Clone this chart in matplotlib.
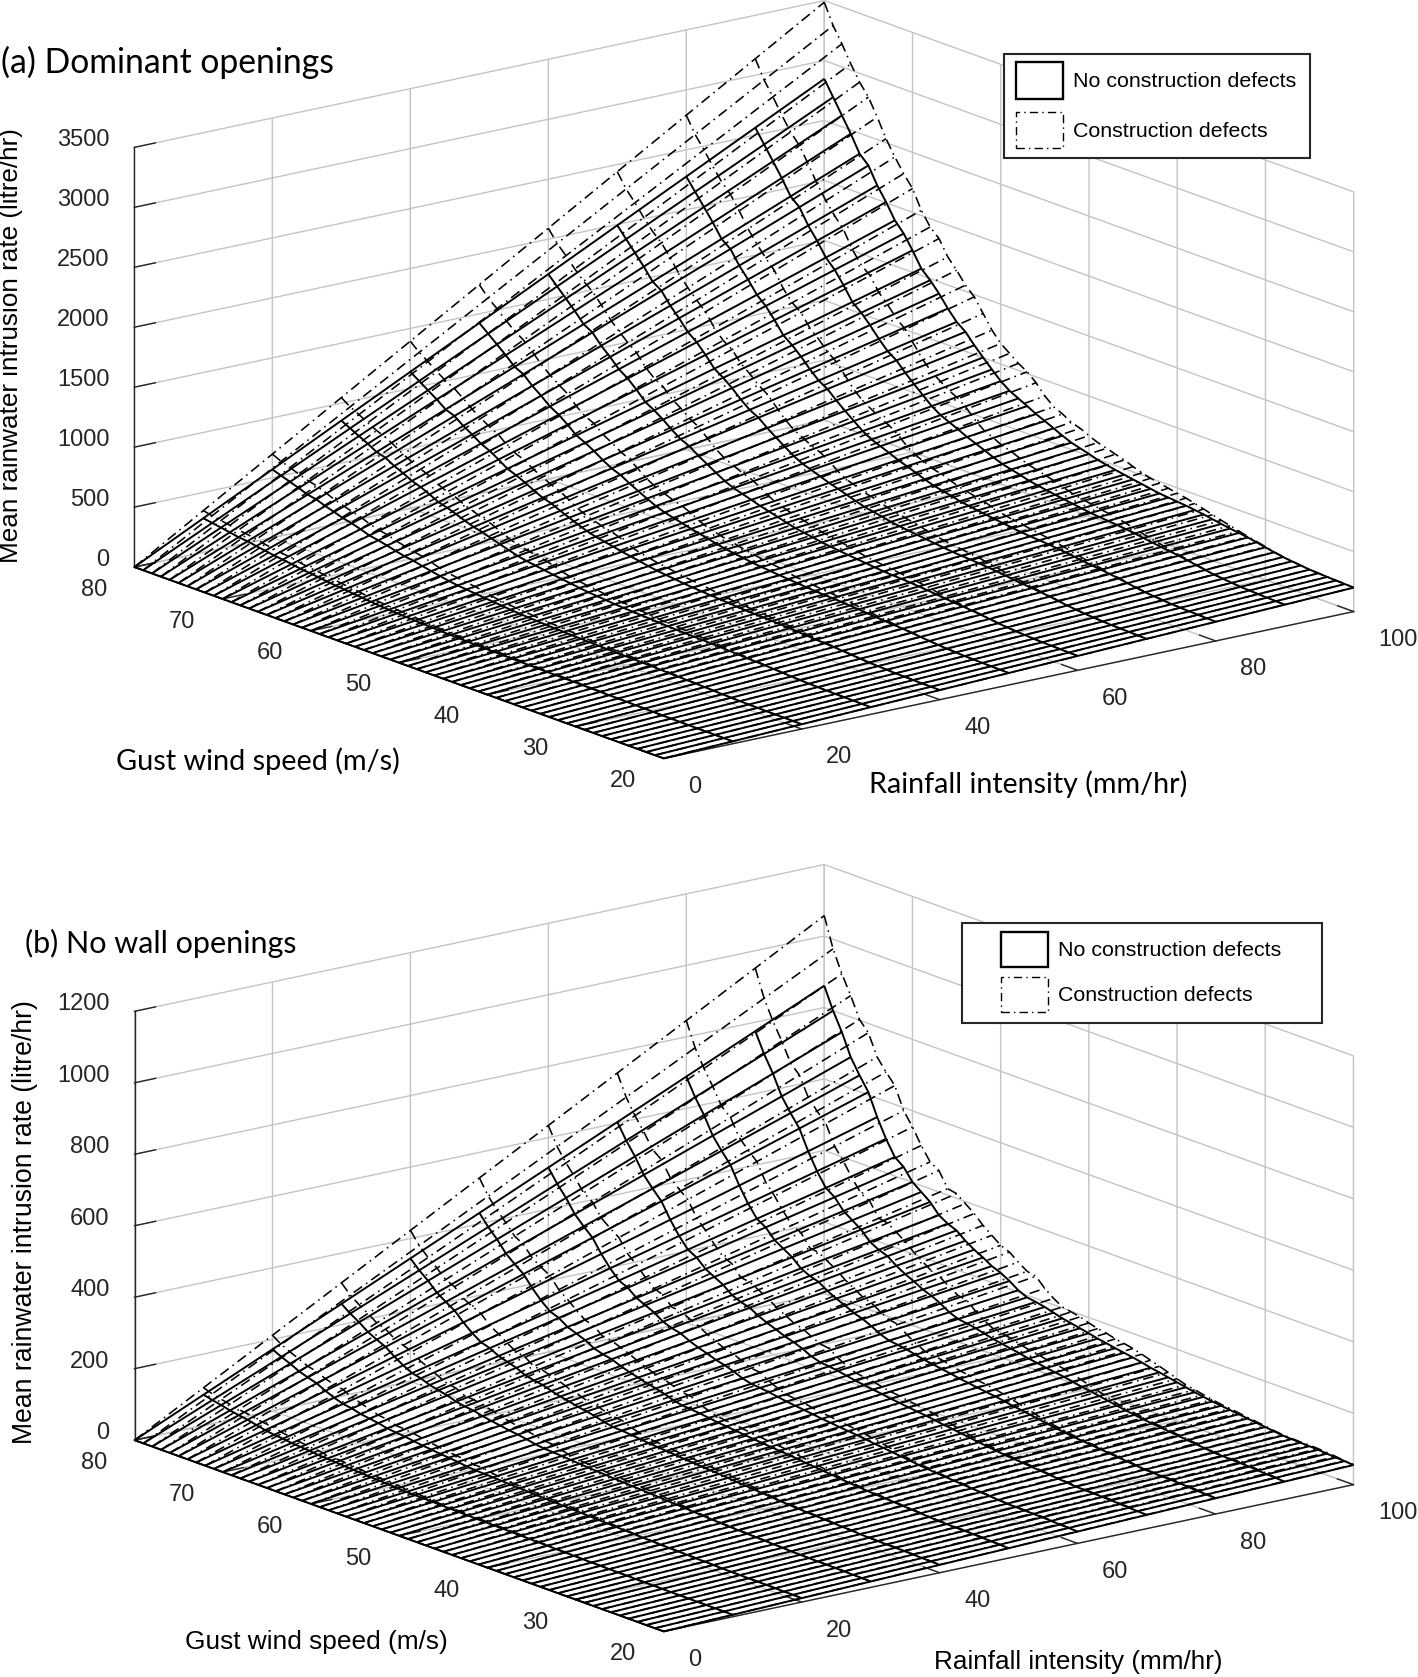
import matplotlib
matplotlib.use('Agg')
import matplotlib.pyplot as plt
import numpy as np
from matplotlib.patches import Patch, Rectangle

# wind speed runs from 80 down to 20 m/s, same order as the lists below
wind = list(range(80, 19, -1))
rain = [0, 10, 20, 30, 40, 50, 60, 70, 80, 90, 100]

# rate at 100 mm/hr for every wind speed (rows are straight in rain)
a_clean = [2847, 2721, 2595, 2469, 2329, 2258, 2118, 2006, 1880, 1796, 1683, 1557, 1487, 1402, 1304, 1219,
           1163, 1078, 1002, 929, 858, 804, 767, 730, 690, 658, 624, 589, 558, 537, 517, 493, 478, 463, 450,
           437, 425, 412, 400, 392, 385, 378, 368, 358, 345, 332, 320, 310, 299, 285, 270, 255, 242, 233,
           225, 217, 213, 209, 206, 203, 200]
a_defect = [3486, 3318, 3192, 3052, 2926, 2828, 2688, 2534, 2408, 2296, 2198, 2043, 1931, 1861, 1734, 1650,
            1552, 1481, 1369, 1257, 1172, 1116, 1059, 1016, 951, 867, 804, 770, 727, 704, 669, 638, 617, 594,
            573, 544, 518, 500, 486, 470, 455, 441, 423, 403, 382, 362, 344, 326, 307, 292, 275, 258, 244,
            235, 226, 218, 214, 210, 207, 203, 200]
b_clean = [861, 800, 749, 688, 646, 608, 547, 495, 453, 434, 401, 382, 363, 335, 320, 310, 290, 274, 261, 246,
           236, 222, 205, 194, 190, 185, 178, 171, 166, 161, 156, 150, 146, 141, 137, 133, 128, 122, 118, 113,
           108, 103, 98, 94, 90, 87, 84, 81, 78, 75, 72, 69, 66, 65, 64, 63, 62, 60, 58, 57, 55]
b_defect = [1057, 973, 912, 860, 802, 774, 715, 682, 653, 592, 555, 512, 475, 460, 418, 413, 394, 375, 351, 332,
            313, 303, 284, 267, 262, 237, 218, 203, 198, 193, 185, 178, 174, 167, 163, 158, 151, 143, 135, 127,
            118, 110, 105, 100, 95, 91, 88, 85, 81, 78, 75, 71, 68, 67, 66, 66, 65, 63, 61, 58, 56]

rain_ticks = [0, 20, 40, 60, 80, 100]
wind_ticks = [20, 30, 40, 50, 60, 70, 80]
a_zticks = [0, 500, 1000, 1500, 2000, 2500, 3000, 3500]
b_zticks = [0, 200, 400, 600, 800, 1000, 1200]

W, H = 1418, 1677
DASH = (0, (6.5, 3, 1, 3))
GREY = '#c4c4c4'
DARK = '#262626'

plt.rcParams['font.family'] = ['Liberation Sans', 'DejaVu Sans']
fig = plt.figure(figsize=(W / 100, H / 100), dpi=100)
fig.patch.set_facecolor('white')


def panel(rect, zmax, zticks, clean, defect, zheight):
    # rect given in pixels: left, bottom (from the figure bottom) and side of the square axes
    ax = fig.add_axes([rect[0] / W, rect[1] / H, rect[2] / W, rect[2] / H], projection='3d', proj_type='ortho')
    ax.patch.set_visible(False)
    ax.view_init(elev=16.1, azim=-127.5)
    ax.set_xlim(0, 100, view_margin=0)
    ax.set_ylim(20, 80, view_margin=0)
    ax.set_zlim(0, zmax, view_margin=0)
    ax.set_box_aspect((870, 870, zheight))
    X, Y = np.meshgrid(rain, wind)
    frac = np.array(rain) / 100
    Z1 = np.outer(clean, frac)
    Z2 = np.outer(defect, frac)
    ax.plot_wireframe(X, Y, Z1, rstride=1, cstride=1, color='black', linewidth=1.4)
    ax.plot_wireframe(X, Y, Z2, rstride=1, cstride=1, color='black', linewidth=1.15, linestyle=DASH)
    ax.set_xticks(rain_ticks)
    ax.set_yticks(wind_ticks)
    ax.set_zticks(zticks)
    for axis in (ax.xaxis, ax.yaxis, ax.zaxis):
        axis.set_pane_color((1, 1, 1, 0))
        axis.pane.set_edgecolor((1, 1, 1, 0))
        axis.line.set_color(DARK)
        axis.line.set_linewidth(1.0)
        axis._axinfo['grid']['color'] = GREY
        axis._axinfo['grid']['linewidth'] = 1.0
        axis._axinfo['tick']['inward_factor'] = 0
        axis._axinfo['tick']['outward_factor'] = 0.38
        axis._axinfo['tick']['linewidth'] = {True: 1.0, False: 1.0}
        axis._axinfo['tick']['color'] = DARK
    # the labels are nudged with pad and alignment, there is no other handle on 3d tick labels
    ax.xaxis.set_tick_params(labelsize=17, labelcolor=DARK, colors=DARK, pad=14)
    ax.yaxis.set_tick_params(labelsize=17, labelcolor=DARK, colors=DARK, pad=11)
    ax.zaxis.set_tick_params(labelsize=17, labelcolor=DARK, colors=DARK, pad=1.7)
    plt.setp(ax.get_xticklabels(), ha='left', va='center')
    plt.setp(ax.get_yticklabels(), ha='right', va='center')
    plt.setp(ax.get_zticklabels(), ha='right', va='baseline')
    return ax


ax_a = panel((93.4, 646.9, 1267), 3500, a_zticks, a_clean, a_defect, 437)
ax_b = panel((92, -223, 1269.7), 1200, b_zticks, b_clean, b_defect, 446.7)


# labels sit in figure pixels, measured from the top left
def label(x, y, s, family, size, **kw):
    fig.text(x / W, 1 - y / H, s, family=family, fontsize=size, va='center', color='black', **kw)


label(1, 62, '(a) Dominant openings', 'Lato', 24.3)
label(116, 761, 'Gust wind speed (m/s)', 'Lato', 20.8)
label(869, 784, 'Rainfall intensity (mm/hr)', 'Lato', 20.6)
label(25, 943, '(b) No wall openings', 'Lato', 22)
label(185, 1642, 'Gust wind speed (m/s)', 'Liberation Sans', 18.9)
label(934, 1662, 'Rainfall intensity (mm/hr)', 'Liberation Sans', 18.8)
label(11, 346, 'Mean rainwater intrusion rate (litre/hr)', 'Liberation Sans', 18.8, rotation=90, ha='center')
label(25, 1222, 'Mean rainwater intrusion rate (litre/hr)', 'Liberation Sans', 19.2, rotation=90, ha='center')

handles = [Patch(facecolor='white', edgecolor='black', linewidth=1.7, label='No construction defects'),
           Patch(facecolor='white', edgecolor='black', linewidth=1.0, linestyle=(0, (6, 3, 1, 3)), label='Construction defects')]
# frame box in pixels, where the first handle starts, handle height and row gap
for frame, anchor, tall, spacing in (((1004, 54, 306, 104), (1016, 62), 2.25, 0.62), ((962, 923, 360, 100), (1001, 932), 2.12, 0.5)):
    fig.add_artist(Rectangle((frame[0] / W, 1 - (frame[1] + frame[3]) / H), frame[2] / W, frame[3] / H,
                             transform=fig.transFigure, facecolor='white', edgecolor=DARK, linewidth=1.5))
    fig.legend(handles=handles, loc='upper left', bbox_to_anchor=(anchor[0] / W, 1 - anchor[1] / H),
               fontsize=15.4, frameon=False, borderaxespad=0, borderpad=0,
               handlelength=2.2, handleheight=tall, labelspacing=spacing, handletextpad=0.45)

fig.savefig('out.png', dpi=100)
